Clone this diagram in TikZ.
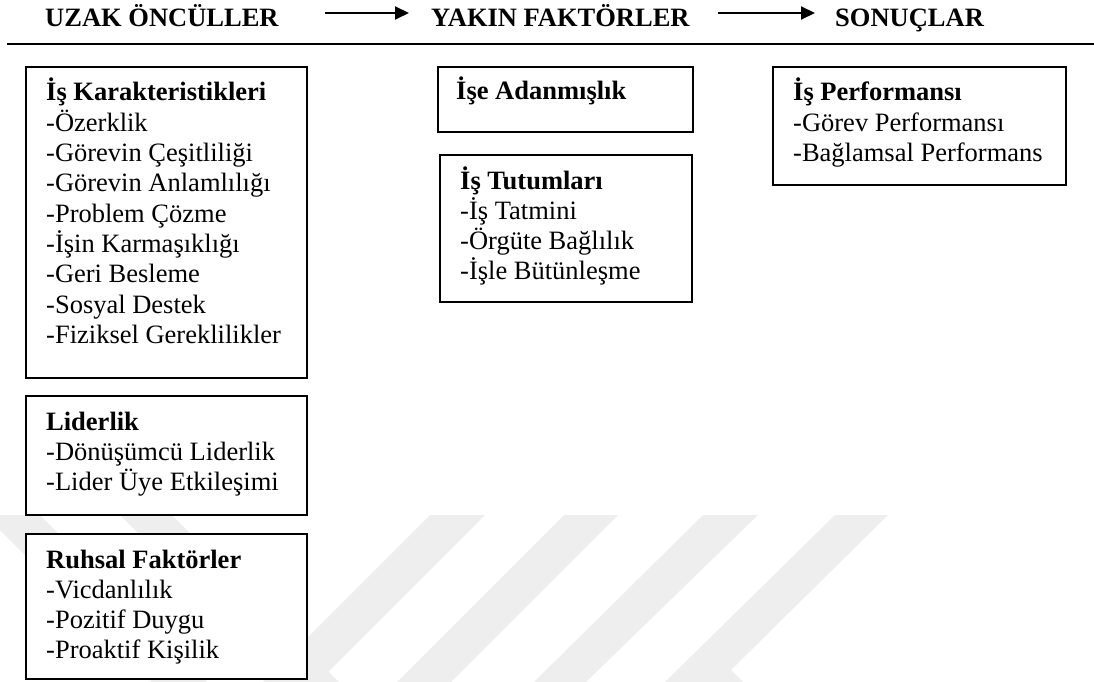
\documentclass[tikz,border=0pt]{standalone}
\usepackage{fontspec}
\setmainfont{Liberation Serif}
\usetikzlibrary{arrows.meta,calc}
\definecolor{wm}{RGB}{238,238,238}
% heading line in bold, then one item per line below it
\newcommand\boxtext[3]{%
  \node[headtext] (#1-0) at ([shift={(21,35)}]#1.north west) {#2};
  \foreach \t [count=\i] in {#3}
    \node[bodytext] (#1-\i) at ([shift={(21,35+30.3*\i)}]#1.north west) {\t};
}
\begin{document}
\begin{tikzpicture}[x=1pt,y=-1pt,
  bodytext/.style={anchor=base west,inner sep=0pt,font=\fontsize{26.5}{30.5}\selectfont},
  headtext/.style={bodytext,font=\fontsize{26.5}{30.5}\selectfont\bfseries},
  frame/.style={draw=black,line width=1.7pt,fill=white,anchor=north west,inner sep=0pt},
  flow/.style={line width=2pt,-{Triangle[length=14pt,width=13pt]}}]
\useasboundingbox (0,0) rectangle (1094,682);

% faint background chevrons
\fill[wm] (-15,515) -- (40,515) -- (207,682) -- (152,682) -- cycle;
\fill[wm] (120,515) -- (172,515) -- (339,682) -- (287,682) -- cycle;
\fill[wm] (430,515) -- (485,515) -- (318,682) -- (263,682) -- cycle;
\fill[wm] (564,515) -- (618,515) -- (451,682) -- (397,682) -- cycle;
\fill[wm] (703,515) -- (758,515) -- (586,682) -- (534,682) -- cycle;
\fill[wm] (835,515) -- (888,515) -- (731,670) -- (743,682) -- (665,682) -- cycle;

% column headings
\node[headtext] (uzak) at (45,27) {UZAK ÖNCÜLLER};
\node[headtext] (yakin) at (431,27) {YAKIN FAKTÖRLER};
\node[headtext] (sonuc) at (835,27) {SONUÇLAR};
\draw[flow] ([shift={(46,-14)}]uzak.base east) -- ([shift={(-22,-14)}]yakin.base west);
\draw[flow] ([shift={(28,-14)}]yakin.base east) -- ([shift={(-20,-14)}]sonuc.base west);
\draw[line width=2.6pt] (7,44) -- (1094,44);

% boxes
\node[frame,minimum width=281pt,minimum height=311pt] (ik) at (25,66) {};
\node[frame,minimum width=281pt,minimum height=119pt] (lid) at (25,395) {};
\node[frame,minimum width=281pt,minimum height=145pt] (ruh) at (25,533) {};
\node[frame,minimum width=255pt,minimum height=65pt] (ada) at (437,66) {};
\node[frame,minimum width=252pt,minimum height=147pt] (tut) at (439,154) {};
\node[frame,minimum width=293pt,minimum height=118pt] (perf) at (772,66) {};

\boxtext{ik}{İş Karakteristikleri}{-Özerklik,-Görevin Çeşitliliği,-Görevin Anlamlılığı,-Problem Çözme,-İşin Karmaşıklığı,-Geri Besleme,-Sosyal Destek,-Fiziksel Gereklilikler}
\boxtext{lid}{Liderlik}{-Dönüşümcü Liderlik,-Lider Üye Etkileşimi}
\boxtext{ruh}{Ruhsal Faktörler}{-Vicdanlılık,-Pozitif Duygu,-Proaktif Kişilik}
\node[headtext] (ada-0) at ([shift={(19,34)}]ada.north west) {İşe Adanmışlık};
\boxtext{tut}{İş Tutumları}{-İş Tatmini,-Örgüte Bağlılık,-İşle Bütünleşme}
\boxtext{perf}{İş Performansı}{-Görev Performansı,-Bağlamsal Performans}
\end{tikzpicture}
\end{document}
